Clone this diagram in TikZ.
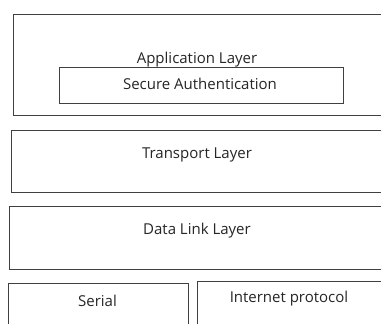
\documentclass[tikz,border=0pt]{standalone}
\usepackage{fontspec}
\setmainfont{Open Sans}
\begin{document}
\begin{tikzpicture}[x=1pt,y=-1pt,
  box/.style={draw=black!75,line width=1.1pt},
  lbl/.style={font=\fontsize{15}{18}\selectfont,text=black!85,inner sep=0pt,anchor=center}]
\useasboundingbox (0,0) rectangle (381,324);
\clip (0,0) rectangle (381,324);
\fill[white] (0,0) rectangle (381,324);
\node[box,minimum width=380pt,minimum height=101pt,anchor=north west,inner sep=0pt] (app) at (13,14) {};
\node[box,minimum width=284pt,minimum height=36pt,anchor=north west,inner sep=0pt] (sec) at (59,67) {};
\node[box,minimum width=382pt,minimum height=62pt,anchor=north west,inner sep=0pt] (tra) at (11,130) {};
\node[box,minimum width=384pt,minimum height=63pt,anchor=north west,inner sep=0pt] (dll) at (9,206) {};
\node[box,minimum width=180pt,minimum height=50pt,anchor=north west,inner sep=0pt] (ser) at (8,283) {};
\node[box,minimum width=200pt,minimum height=52pt,anchor=north west,inner sep=0pt] (ip) at (197,281) {};
\node[lbl] (tapp) at (197,60) {Application Layer};
\node[lbl] (tsec) at (200,84) {Secure Authentication};
\node[lbl] (ttra) at (197,155) {Transport Layer};
\node[lbl] (tdll) at (197,231) {Data Link Layer};
\node[lbl] (tser) at (97.5,301) {Serial};
\node[lbl] (tip) at (289,299) {Internet protocol};
\end{tikzpicture}
\end{document}
